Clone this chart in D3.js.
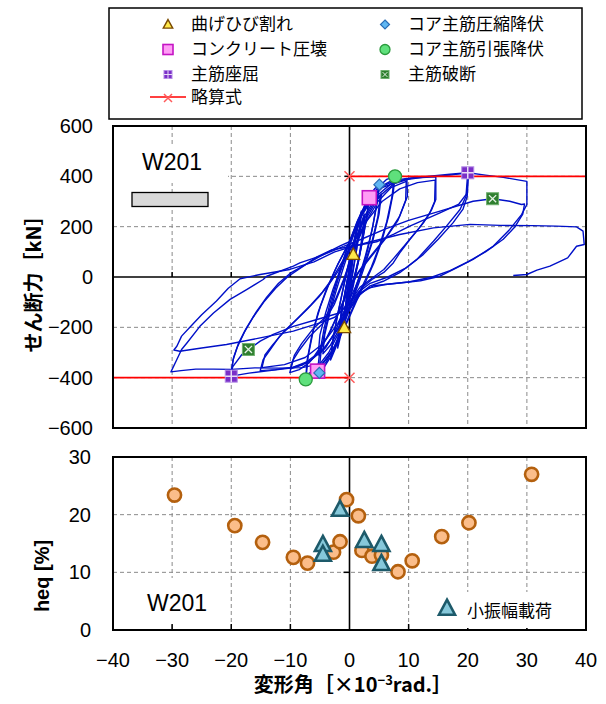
<!DOCTYPE html>
<html><head><meta charset="utf-8">
<script src="https://cdn.jsdelivr.net/npm/d3@7"></script>
<style>body{margin:0;background:#fff}</style>
</head><body>
<svg id="chart" width="606" height="704"></svg>
<script>
// ---------- hysteresis loops: drift angle [x10^-3 rad], shear force [kN] ----------
const loop01 = [[0,0],[0.3,45],[0.64,100],[0.9,145],[1.05,170],[0.85,120],[0.45,50],[0.05,-20],[-0.4,-90],[-0.88,-180],[-1.05,-205],[-0.85,-150],[-0.45,-70],[0,10]];
const loop01b = [[0,10],[0.35,60],[0.7,115],[1.0,160],[0.8,110],[0.4,40],[0,-30],[-0.45,-100],[-0.85,-170],[-1.0,-195],[-0.8,-140],[-0.4,-60],[0,10]];
const loop02 = [[0,10],[0.5,90],[1.1,170],[1.6,225],[2.0,262],[1.75,200],[1.2,110],[0.6,20],[0,-60],[-0.7,-150],[-1.4,-225],[-2.0,-282],[-1.8,-220],[-1.25,-130],[-0.6,-40],[0,40]];
const loop03 = [[0,40],[0.6,120],[1.3,200],[2.0,255],[1.7,185],[1.1,95],[0.4,5],[-0.3,-80],[-1.1,-180],[-2.0,-272],[-1.75,-205],[-1.1,-110],[-0.4,-20],[0.1,55]];
const loop04 = [[0.1,55],[0.9,150],[1.8,230],[2.6,285],[3.35,315],[3.0,250],[2.3,155],[1.5,60],[0.6,-40],[-0.4,-130],[-1.4,-215],[-2.4,-285],[-3.2,-330],[-2.9,-265],[-2.2,-170],[-1.3,-70],[-0.4,30],[0.3,95]];
const loop04b = [[0.3,95],[1.1,180],[2.0,250],[3.2,300],[2.9,235],[2.1,135],[1.2,35],[0.3,-60],[-0.8,-160],[-1.9,-250],[-3.1,-315],[-2.8,-250],[-2.0,-150],[-1.1,-50],[-0.2,45],[0.3,95]];
const loop05 = [[0.3,95],[1.2,185],[2.2,260],[3.3,320],[4.3,352],[5.05,367],[4.7,305],[4.0,210],[3.1,110],[2.0,20],[0.8,-70],[-0.5,-160],[-1.8,-245],[-3.0,-310],[-4.2,-355],[-5.4,-374],[-5.1,-310],[-4.3,-205],[-3.3,-105],[-2.1,-10],[-0.9,80],[0,140]];
const loop06 = [[0,140],[1.2,215],[2.6,285],[4,335],[5.0,355],[4.6,285],[3.8,185],[2.7,85],[1.5,-10],[0.2,-100],[-1.2,-195],[-2.6,-280],[-4,-340],[-5.1,-362],[-4.8,-295],[-4.0,-195],[-2.9,-90],[-1.7,10],[-0.5,90],[0.3,140]];
const loop07 = [[0.3,140],[1.5,220],[3,300],[4.8,355],[6.3,388],[7.7,400],[7.4,335],[6.6,240],[5.5,145],[4.2,60],[2.8,-15],[1.2,-95],[-0.5,-185],[-2.2,-265],[-4,-330],[-5.8,-378],[-7.4,-405],[-7.2,-335],[-6.4,-235],[-5.3,-140],[-4,-55],[-2.5,25],[-1,95],[0.2,150]];
const loop08 = [[0.2,150],[1.8,235],[3.6,310],[5.5,362],[7.5,388],[7.2,320],[6.3,220],[5.1,125],[3.7,40],[2.2,-35],[0.6,-120],[-1.2,-215],[-3,-295],[-5,-355],[-7.3,-390],[-7.0,-315],[-6.1,-210],[-4.9,-115],[-3.5,-30],[-2,50],[-0.5,115],[0.6,165]];
const loop09 = [[0.6,165],[2,245],[3.8,315],[5.8,362],[7.8,385],[9.7,392],[9.8,321],[8.5,242],[6.3,162],[4.0,96],[1.8,30],[0.1,-30],[-1.5,-120],[-3.2,-215],[-5,-290],[-6.8,-340],[-8.5,-368],[-10.1,-380],[-9.5,-328],[-8.4,-288],[-6.7,-235],[-4.4,-182],[-2.6,-110],[-1.2,-30],[0,50],[1,120]];
const loop10 = [[1,120],[2.8,220],[4.8,300],[7,355],[9.6,380],[9.5,305],[8.2,225],[6,150],[3.8,85],[1.6,20],[0,-45],[-1.8,-140],[-3.8,-240],[-6,-315],[-8,-350],[-10,-365],[-9.3,-310],[-8.1,-265],[-6.3,-210],[-4.1,-160],[-2.4,-90],[-1,-10],[0.2,70],[1.2,135]];
const loopSmall1 = [[1.2,135],[1.8,200],[2.5,250],[2.2,170],[1.6,80],[0.8,0],[-0.2,-80],[-1.0,-150],[-1.6,-200],[-1.3,-130],[-0.6,-40],[0.3,60],[1.2,135]];
const loopSmall1b = [[1.2,135],[1.9,195],[2.6,240],[2.3,160],[1.5,60],[0.6,-20],[-0.4,-100],[-1.2,-170],[-1.8,-215],[-1.4,-140],[-0.5,-40],[0.4,60],[1.2,135]];
const loop11 = [[1.2,135],[3,240],[5,320],[7.5,370],[10.5,393],[14.6,398],[14.6,308],[13.9,268],[12.5,215],[10.2,149],[8.5,96],[7.4,56],[5.8,18],[3.8,-10],[2,-45],[0.3,-110],[-1.8,-200],[-4,-275],[-6.5,-330],[-9.5,-358],[-12.5,-368],[-15.1,-372],[-14.6,-328],[-13.4,-288],[-11.8,-235],[-9.5,-182],[-7.2,-129],[-5.2,-80],[-3.5,-30],[-2,20],[-0.5,80],[0.8,140]];
const loop12 = [[0.8,140],[3,225],[5.5,300],[8.5,350],[11.5,375],[14.5,385],[14.4,300],[13.5,250],[11.8,195],[9.5,130],[7.5,75],[5.8,30],[3.8,-5],[1.8,-40],[0,-100],[-2,-185],[-4.5,-265],[-7.5,-320],[-11,-348],[-14.8,-360],[-14.3,-310],[-13,-270],[-11.2,-220],[-8.8,-165],[-6.5,-110],[-4.6,-60],[-3,-10],[-1.5,50],[0,110],[1,150]];
const loopSmall2 = [[1,150],[2.5,230],[4,290],[5.4,330],[5.0,250],[4.0,150],[2.8,60],[1.5,-30],[0,-120],[-1.8,-210],[-3.2,-270],[-4.5,-305],[-4.2,-230],[-3.3,-140],[-2.2,-50],[-1,40],[0,110],[1,150]];
const loop13 = [[1,150],[2.5,240],[4.5,320],[7,370],[10,393],[14,402],[17,408],[20,414],[19.7,321],[18.7,268],[16.4,202],[14.2,142],[11.4,70],[8.5,17],[5.7,-17],[3.5,-35],[1.8,-70],[0,-130],[-2.2,-215],[-4.5,-290],[-7,-340],[-10,-362],[-13.5,-372],[-17,-382],[-20,-394],[-19.7,-330],[-19,-280],[-17.8,-220],[-16.3,-160],[-14.5,-100],[-12.5,-45],[-10.5,0],[-8,40],[-5.5,80],[-3,108],[0,120]];
const loop14 = [[0,120],[4.6,140],[7.5,170],[10.2,202],[15.3,255],[18.5,290],[19.8,330],[20.1,395],[19.9,320],[19.2,270],[17.5,215],[15,150],[12.5,90],[9.5,35],[6.5,0],[3.5,-25],[1.5,-60],[0,-100],[-1.6,-142],[-5.5,-169],[-9.5,-196],[-12.9,-228],[-15.1,-255],[-17.1,-288],[-18.2,-308],[-19.7,-355],[-20,-372],[-19.6,-320],[-18.8,-265],[-17.5,-205],[-15.8,-140],[-14,-80],[-12,-25],[-10,15],[-7,55],[-4,95],[-1.5,125],[0,140]];
const loopSmall3 = [[0,140],[1.5,220],[3,280],[5.2,320],[4.8,240],[3.8,140],[2.5,50],[1,-40],[-0.8,-130],[-2.5,-220],[-4,-280],[-5.3,-310],[-5,-230],[-4,-140],[-2.8,-50],[-1.4,40],[0,140]];
const loop15 = [[0,140],[1.5,230],[3,300],[5.5,355],[9,385],[13,398],[17,405],[20,414],[23,405],[26,396],[28.5,386],[30,380],[30,330],[30,288],[29.1,248],[27.1,189],[24.3,122],[20.9,70],[17.6,30],[15.3,3],[12,-15],[8,-25],[4,-35],[1.5,-70],[0,-130],[-2,-230],[-3.5,-300],[-5,-345],[-8,-360],[-12,-362],[-16,-361],[-20,-367],[-23,-366],[-26,-366],[-28.5,-372],[-30.2,-377],[-29.2,-328],[-28.4,-288],[-27.5,-262],[-25.3,-196],[-23,-143],[-20.2,-89],[-17.4,-50],[-14.6,-10],[-14,3],[-9.5,43],[-8.4,56],[-5,83],[-1,122]];
const loop16 = [[-1,122],[2,150],[6,190],[10,225],[15.3,262],[20.9,301],[24.2,311],[27.1,301],[29.1,288],[29.6,290],[29.3,250],[28,200],[26,150],[23,100],[20,60],[17,25],[14,0],[10,-20],[6,-30],[3,-45],[1,-80],[0,-100],[-2.5,-160],[-5,-182],[-9.5,-215],[-15.1,-242],[-20.8,-268],[-25,-282],[-28.7,-295],[-29.7,-290],[-29.2,-275],[-28.4,-235],[-27,-200],[-25,-150],[-22.5,-95],[-20.5,-45],[-18.5,-7],[-15.1,10],[-10.1,30],[-6,60],[-2.5,100],[0,118]];
const loop17 = [[0,118],[2.9,136],[8.5,169],[14.2,195],[20.4,209],[25.5,205],[31,204],[35,202],[38.4,199],[39.5,182],[39.7,129],[38.4,122],[36.9,76],[33.9,43],[31.7,27],[30,10],[27.7,6]];
const loops = [loop01, loop01b, loop02, loop03, loop04, loop04b, loop05, loop06, loop07, loop08, loop09, loop10,
               loopSmall1, loopSmall1b, loop11, loop12, loopSmall2, loop13, loop14, loopSmall3, loop15, loop16, loop17];

// ---------- damage events [angle, force] ----------
const flexCrack   = [[0.64, 89], [-0.88, -202]];
const concCrush   = [[3.35, 315], [-5.4, -374]];
const coreCompYld = [[5.05, 367], [-5.1, -381]];
const coreTensYld = [[7.7, 400], [-7.4, -407]];
const barBuckle   = [[20.0, 414], [-20.0, -394]];
const barFracture = [[24.2, 311], [-17.1, -288]];
const calcStrength = 400;   // simplified formula [kN]

// ---------- equivalent damping ratio ----------
const heqAngle = [-29.6, -19.4, -14.7, -9.5, -7.1, -2.7, -1.6, -0.5, 1.5, 2.1, 3.8, 5.4, 8.2, 10.6, 15.6, 20.2, 30.8];
const heqValue = [23.4, 18.1, 15.2, 12.6, 11.6, 13.5, 15.3, 22.6, 19.8, 13.8, 12.8, 13.0, 10.1, 12.0, 16.2, 18.6, 27.0];
const smallAngle = [-4.5, -4.5, -1.6, 2.5, 5.4, 5.4];
const smallValue = [14.7, 13.0, 20.8, 15.4, 14.7, 11.4];

// ---------- axis ticks and labels ----------
const xTicks = [-40, -30, -20, -10, 0, 10, 20, 30, 40];
const forceTicks = [-600, -400, -200, 0, 200, 400, 600];
const heqTicks = [0, 10, 20, 30];
const legendLabels = ["曲げひび割れ", "コンクリート圧壊", "主筋座屈", "略算式", "コア主筋圧縮降伏", "コア主筋引張降伏", "主筋破断"];
const specimen = "W201";
const smallLabel = "小振幅載荷";

const NUMFONT = "'Liberation Sans', 'Noto Sans CJK JP', sans-serif";
const JFONT = "'Noto Sans CJK JP', 'Liberation Sans', sans-serif";
const svg = d3.select("#chart");

const x = d3.scaleLinear().domain([-40, 40]).range([113, 586]);
const yF = d3.scaleLinear().domain([-600, 600]).range([428, 126]);
const yH = d3.scaleLinear().domain([0, 30]).range([630, 457]);

const dash = "4,3", gridCol = "#8a8a8a";

// ---------- marker painter ----------
function marker(g, kind, cx, cy, s) {
  const h = s / 2;
  if (kind === "crack") {
    g.append("path").attr("d", `M${cx},${cy - h * 1.1}L${cx + h * 1.05},${cy + h * 0.8}L${cx - h * 1.05},${cy + h * 0.8}Z`)
      .attr("fill", "#ffe94a").attr("stroke", "#7a4a00").attr("stroke-width", 1.4);
  } else if (kind === "crush") {
    g.append("rect").attr("x", cx - h).attr("y", cy - h).attr("width", s).attr("height", s)
      .attr("fill", "#ff9cf5").attr("stroke", "#c414c4").attr("stroke-width", 1.6);
  } else if (kind === "comp") {
    g.append("path").attr("d", `M${cx},${cy - h}L${cx + h},${cy}L${cx},${cy + h}L${cx - h},${cy}Z`)
      .attr("fill", "#5fb6f2").attr("stroke", "#2a6cb5").attr("stroke-width", 1.2);
  } else if (kind === "tens") {
    g.append("circle").attr("cx", cx).attr("cy", cy).attr("r", h)
      .attr("fill", "#5fe07c").attr("stroke", "#2a9a3c").attr("stroke-width", 1.3);
  } else if (kind === "buckle") {
    g.append("rect").attr("x", cx - h).attr("y", cy - h).attr("width", s).attr("height", s)
      .attr("fill", "#7a2fc8").attr("stroke", "#b48ce6").attr("stroke-width", 1);
    g.append("path").attr("d", `M${cx},${cy - h}V${cy + h}M${cx - h},${cy}H${cx + h}`)
      .attr("stroke", "#e8dcf6").attr("stroke-width", Math.max(1, s / 8));
  } else if (kind === "fract") {
    g.append("rect").attr("x", cx - h).attr("y", cy - h).attr("width", s).attr("height", s)
      .attr("fill", "#2f7f2f").attr("stroke", "#6fb06f").attr("stroke-width", 1);
    const k = h * 0.6;
    g.append("path").attr("d", `M${cx - k},${cy - k}L${cx + k},${cy + k}M${cx + k},${cy - k}L${cx - k},${cy + k}`)
      .attr("stroke", "#e6f2e6").attr("stroke-width", Math.max(1, s / 9));
  } else if (kind === "calc") {
    g.append("path").attr("d", `M${cx - h},${cy - h}L${cx + h},${cy + h}M${cx + h},${cy - h}L${cx - h},${cy + h}`)
      .attr("stroke", "#ff5a5a").attr("stroke-width", 1.5);
  }
}

// ---------- legend ----------
const leg = svg.append("g");
leg.append("rect").attr("x", 109).attr("y", 8).attr("width", 473).attr("height", 111)
  .attr("fill", "#fff").attr("stroke", "#000").attr("stroke-width", 1.5);
const legRows = [23.5, 48.5, 73.5, 97];
const legKinds = ["crack", "crush", "buckle", "calc", "comp", "tens", "fract"];
const legSizes = [9, 10, 8, 8, 9, 10, 8];
legendLabels.forEach((t, i) => {
  const col = i < 4 ? 0 : 1;
  const row = i < 4 ? i : i - 4;
  const mx = col === 0 ? 168 : 385;
  const tx = col === 0 ? 191 : 408;
  const cy = legRows[row];
  const g = leg.append("g");
  if (legKinds[i] === "calc") {
    g.append("line").attr("x1", 150).attr("x2", 186).attr("y1", cy).attr("y2", cy)
      .attr("stroke", "#ff0000").attr("stroke-width", 1.5);
  }
  marker(g, legKinds[i], mx, cy + 1, legSizes[i]);
  leg.append("text").attr("x", tx).attr("y", cy + 6).text(t)
    .attr("font-family", JFONT).attr("font-size", 17).attr("fill", "#000");
});

// ---------- upper panel: load-deformation ----------
const upper = svg.append("g");
const gridX = xTicks.filter(v => v !== 0 && Math.abs(v) !== 40);
upper.selectAll(".gx").data(gridX).join("line")
  .attr("x1", d => x(d)).attr("x2", d => x(d)).attr("y1", yF(600)).attr("y2", yF(-600))
  .attr("stroke", gridCol).attr("stroke-width", 1).attr("stroke-dasharray", dash);
upper.selectAll(".gy").data([-400, -200, 200, 400]).join("line")
  .attr("x1", x(-40)).attr("x2", x(40)).attr("y1", d => yF(d)).attr("y2", d => yF(d))
  .attr("stroke", gridCol).attr("stroke-width", 1).attr("stroke-dasharray", dash);

// specimen name with its white label box and wall section symbol
upper.append("rect").attr("x", 114).attr("y", 146).attr("width", 114).attr("height", 37).attr("fill", "#fff");
upper.append("text").attr("x", 172).attr("y", 170).attr("text-anchor", "middle").text(specimen)
  .attr("font-family", NUMFONT).attr("font-size", 23).attr("fill", "#000");
upper.append("rect").attr("x", 132).attr("y", 192.5).attr("width", 76).attr("height", 14)
  .attr("fill", "#d9d9d9").attr("stroke", "#000").attr("stroke-width", 1.3);

// zero axes
upper.append("line").attr("x1", x(-40)).attr("x2", x(40)).attr("y1", yF(0)).attr("y2", yF(0))
  .attr("stroke", "#000").attr("stroke-width", 1.6);
upper.append("line").attr("x1", x(0)).attr("x2", x(0)).attr("y1", yF(600)).attr("y2", yF(-600))
  .attr("stroke", "#000").attr("stroke-width", 1.6);
upper.selectAll(".tx").data(gridX).join("line")
  .attr("x1", d => x(d)).attr("x2", d => x(d)).attr("y1", yF(0)).attr("y2", yF(0) - 5)
  .attr("stroke", "#000").attr("stroke-width", 1.5);
upper.selectAll(".ty").data([-400, -200, 200, 400]).join("line")
  .attr("x1", x(0) - 5).attr("x2", x(0)).attr("y1", d => yF(d)).attr("y2", d => yF(d))
  .attr("stroke", "#000").attr("stroke-width", 1.5);

// hysteresis
const line = d3.line().x(d => x(d[0])).y(d => yF(d[1]));
upper.append("g").selectAll("path").data(loops).join("path")
  .attr("d", line).attr("fill", "none").attr("stroke", "#0010c8")
  .attr("stroke-width", 1.4).attr("stroke-linejoin", "round");

// simplified strength lines
upper.append("line").attr("x1", x(0)).attr("x2", x(40)).attr("y1", yF(calcStrength)).attr("y2", yF(calcStrength))
  .attr("stroke", "#ff0000").attr("stroke-width", 1.6);
upper.append("line").attr("x1", x(-40)).attr("x2", x(0)).attr("y1", yF(-calcStrength)).attr("y2", yF(-calcStrength))
  .attr("stroke", "#ff0000").attr("stroke-width", 1.6);
marker(upper, "calc", x(0), yF(calcStrength), 10);
marker(upper, "calc", x(0), yF(-calcStrength), 10);

// damage markers
const evts = [[flexCrack, "crack", 12], [concCrush, "crush", 14], [coreCompYld, "comp", 11],
              [coreTensYld, "tens", 13], [barBuckle, "buckle", 12], [barFracture, "fract", 12]];
evts.forEach(([pts, kind, s]) => pts.forEach(p => marker(upper, kind, x(p[0]), yF(p[1]), s)));

upper.append("rect").attr("x", x(-40)).attr("y", yF(600)).attr("width", x(40) - x(-40)).attr("height", yF(-600) - yF(600))
  .attr("fill", "none").attr("stroke", "#000").attr("stroke-width", 2);
upper.selectAll(".fl").data(forceTicks).join("text")
  .attr("x", 93).attr("y", d => yF(d) + 7).attr("text-anchor", "end")
  .text(d => d < 0 ? "\u2212" + Math.abs(d) : d)
  .attr("font-family", NUMFONT).attr("font-size", 20).attr("fill", "#000");
svg.append("text").attr("transform", `translate(41,${yF(0) + 2}) rotate(-90)`).attr("text-anchor", "middle")
  .text("せん断力［kN］").attr("font-family", JFONT).attr("font-weight", "bold").attr("font-size", 20).attr("fill", "#000");

// ---------- lower panel: equivalent damping ----------
const lower = svg.append("g");
lower.selectAll(".gx").data(gridX).join("line")
  .attr("x1", d => x(d)).attr("x2", d => x(d)).attr("y1", yH(30)).attr("y2", yH(0))
  .attr("stroke", gridCol).attr("stroke-width", 1).attr("stroke-dasharray", dash);
lower.selectAll(".gy").data([10, 20]).join("line")
  .attr("x1", x(-40)).attr("x2", x(40)).attr("y1", d => yH(d)).attr("y2", d => yH(d))
  .attr("stroke", gridCol).attr("stroke-width", 1).attr("stroke-dasharray", dash);
lower.append("line").attr("x1", x(0)).attr("x2", x(0)).attr("y1", yH(30)).attr("y2", yH(0))
  .attr("stroke", "#000").attr("stroke-width", 1.6);
lower.selectAll(".tx").data(gridX).join("line")
  .attr("x1", d => x(d)).attr("x2", d => x(d)).attr("y1", yH(0)).attr("y2", yH(0) - 6)
  .attr("stroke", "#000").attr("stroke-width", 1.5);
lower.selectAll(".ty").data([10, 20]).join("line")
  .attr("x1", x(0) - 6).attr("x2", x(0)).attr("y1", d => yH(d)).attr("y2", d => yH(d))
  .attr("stroke", "#000").attr("stroke-width", 1.5);

lower.append("rect").attr("x", 140).attr("y", 578).attr("width", 76).attr("height", 44).attr("fill", "#fff");
lower.append("text").attr("x", 177).attr("y", 611).attr("text-anchor", "middle").text(specimen)
  .attr("font-family", NUMFONT).attr("font-size", 23).attr("fill", "#000");
lower.append("rect").attr("x", 432).attr("y", 592).attr("width", 145).attr("height", 36).attr("fill", "#fff");

const heqPts = heqAngle.map((a, i) => [a, heqValue[i]]);
lower.selectAll(".hc").data(heqPts).join("circle")
  .attr("cx", d => x(d[0])).attr("cy", d => yH(d[1])).attr("r", 6.6)
  .attr("fill", "#fbbd8a").attr("stroke", "#b4600e").attr("stroke-width", 2.6);
const smallPts = smallAngle.map((a, i) => [a, smallValue[i]]);
const tri = (cx, cy, w) => `M${cx},${cy - w * 0.58}L${cx + w / 2},${cy + w * 0.36}L${cx - w / 2},${cy + w * 0.36}Z`;
lower.selectAll(".st").data(smallPts).join("path")
  .attr("d", d => tri(x(d[0]), yH(d[1]), 16))
  .attr("fill", "#86c8da").attr("stroke", "#1d5a6a").attr("stroke-width", 2.6).attr("stroke-linejoin", "miter");
lower.append("path").attr("d", tri(447, 609, 16))
  .attr("fill", "#86c8da").attr("stroke", "#1d5a6a").attr("stroke-width", 2.6);
lower.append("text").attr("x", 467).attr("y", 617).text(smallLabel)
  .attr("font-family", JFONT).attr("font-size", 17).attr("fill", "#000");

lower.append("rect").attr("x", x(-40)).attr("y", yH(30)).attr("width", x(40) - x(-40)).attr("height", yH(0) - yH(30))
  .attr("fill", "none").attr("stroke", "#000").attr("stroke-width", 2);
lower.selectAll(".hl").data(heqTicks).join("text")
  .attr("x", 91).attr("y", d => yH(d) + 7).attr("text-anchor", "end").text(d => d)
  .attr("font-family", NUMFONT).attr("font-size", 20).attr("fill", "#000");
lower.selectAll(".xl").data(xTicks).join("text")
  .attr("x", d => x(d)).attr("y", 667).attr("text-anchor", "middle")
  .text(d => d < 0 ? "\u2212" + Math.abs(d) : d)
  .attr("font-family", NUMFONT).attr("font-size", 20).attr("fill", "#000");
svg.append("text").attr("transform", `translate(49,576) rotate(-90)`).attr("text-anchor", "middle")
  .text("heq [%]").attr("font-family", NUMFONT).attr("font-weight", "bold").attr("font-size", 20).attr("fill", "#000");

const xt = svg.append("text").attr("x", 353).attr("y", 692).attr("text-anchor", "middle")
  .attr("font-family", JFONT).attr("font-weight", "bold").attr("font-size", 20).attr("fill", "#000");
xt.append("tspan").text("変形角［×10");
xt.append("tspan").attr("dy", -7).attr("font-size", 13).text("−3");
xt.append("tspan").attr("dy", 7).text("rad.］");
</script></body></html>
